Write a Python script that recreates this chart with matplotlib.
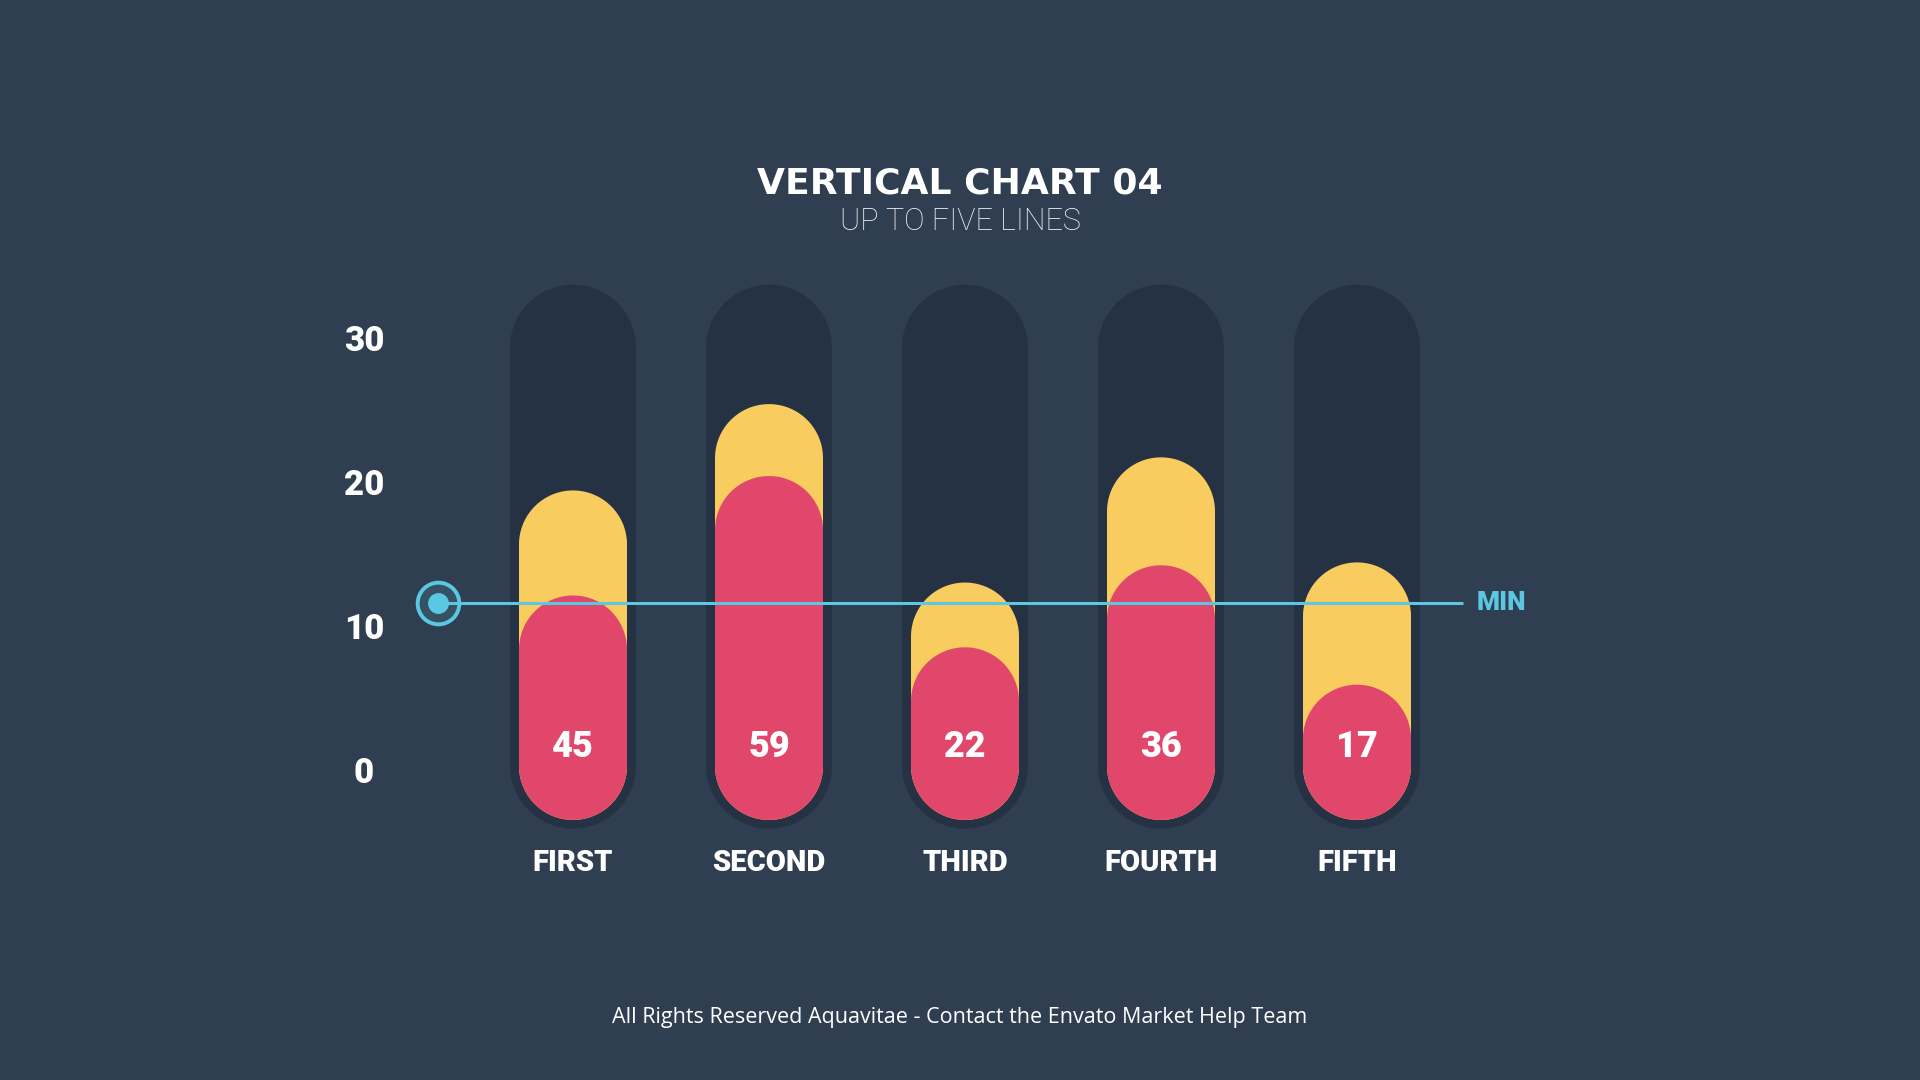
import matplotlib
matplotlib.use("Agg")
import numpy as np
import matplotlib.pyplot as plt
from matplotlib.patches import Polygon

# data
categories = ["FIRST", "SECOND", "THIRD", "FOURTH", "FIFTH"]
yellow_values = [19.4, 25.4, 13.0, 21.7, 14.4]
red_values = [12.1, 20.4, 8.5, 14.2, 5.9]
value_labels = ["45", "59", "22", "36", "17"]
y_ticks = [0, 10, 20, 30]
min_value = 11.6

# colours
BG = "#2f3e50"
TRACK = "#253243"
YELLOW = "#f9cc60"
RED = "#e0476a"
CYAN = "#5bc7e1"
WHITE = "#ffffff"
HEAVY = ["Roboto", "DejaVu Sans"]

# layout (pixels in a 1920x1080 canvas)
W, H = 1920, 1080
X0_PX, DX_PX = 573, 196       # first bar centre, bar spacing
Y0_PX, DY_PX = 769.6, 14.39   # pixel row of value 0, pixels per unit
XLIM = (-0.75, 4.75)
YLIM = (-5.0, 36.0)
BAR_W_PX, TRACK_W_PX = 108, 126
BAR_BASE = -3.5
TRACK_BASE, TRACK_TOP = -4.1, 33.7

fig = plt.figure(figsize=(W / 100, H / 100), dpi=100, facecolor=BG)
left_px = X0_PX + DX_PX * XLIM[0]
right_px = X0_PX + DX_PX * XLIM[1]
top_px = Y0_PX - DY_PX * YLIM[1]
bottom_px = Y0_PX - DY_PX * YLIM[0]
ax = fig.add_axes([left_px / W, 1 - bottom_px / H,
                   (right_px - left_px) / W, (bottom_px - top_px) / H])
ax.set_facecolor("none")
ax.set_xlim(*XLIM)
ax.set_ylim(*YLIM)
for s in ax.spines.values():
    s.set_visible(False)


def pill(x, bottom, top, width_px, color, z):
    # capsule with true semicircle ends (radius = half width, in pixels)
    rx = width_px / 2 / DX_PX
    ry = width_px / 2 / DY_PX
    t_top = np.linspace(0, np.pi, 60)
    t_bot = np.linspace(np.pi, 2 * np.pi, 60)
    xs = np.concatenate([x + rx * np.cos(t_top), x + rx * np.cos(t_bot)])
    ys = np.concatenate([top - ry + ry * np.sin(t_top),
                         bottom + ry + ry * np.sin(t_bot)])
    ax.add_patch(Polygon(np.column_stack([xs, ys]), closed=True,
                         facecolor=color, edgecolor="none", zorder=z))


for i in range(len(categories)):
    pill(i, TRACK_BASE, TRACK_TOP, TRACK_W_PX, TRACK, 1)
    pill(i, BAR_BASE, yellow_values[i], BAR_W_PX, YELLOW, 2)
    pill(i, BAR_BASE, red_values[i], BAR_W_PX, RED, 3)
    ax.text(i, BAR_BASE + 5.1, value_labels[i], color=WHITE, fontsize=26,
            fontweight="black", family=HEAVY,
            ha="center", va="center", zorder=5)

# min line with ring marker
line_x0 = (438 - X0_PX) / DX_PX
line_x1 = (1463 - X0_PX) / DX_PX
ax.hlines(min_value, line_x0, line_x1, color=CYAN, lw=2.2, zorder=4)
ax.plot([line_x0], [min_value], "o", markersize=30,
        markerfacecolor=(0.36, 0.78, 0.88, 0.15),
        markeredgecolor=CYAN, markeredgewidth=2.8, zorder=6, clip_on=False)
ax.plot([line_x0], [min_value], "o", markersize=14, color=CYAN, zorder=7,
        clip_on=False)
ax.text((1477 - X0_PX) / DX_PX, min_value, "MIN", color=CYAN, fontsize=19,
        fontweight="black", family=HEAVY, ha="left", va="center")

# axes ticks
ax.set_yticks(y_ticks)
ax.set_yticklabels([str(t) for t in y_ticks])
ax.set_xticks(range(len(categories)))
ax.set_xticklabels(categories)
ax.tick_params(axis="both", length=0, colors=WHITE)
ax.tick_params(axis="y", pad=(left_px - 364) * 0.72)
ax.tick_params(axis="x", pad=(863 - bottom_px) * 0.72)
for t in ax.get_yticklabels():
    t.set_ha("center")
    t.set_fontsize(25)
    t.set_fontweight("black")
    t.set_family(HEAVY)
for t in ax.get_xticklabels():
    t.set_va("center")
    t.set_fontsize(21)
    t.set_fontweight("black")
    t.set_family(HEAVY)

# titles and footer
fig.text(0.5, 1 - 184 / H, "VERTICAL CHART 04", color=WHITE, fontsize=26,
         fontweight="heavy", family=["DejaVu Sans"], ha="center", va="center")
fig.text(0.5, 1 - 221 / H, "UP TO FIVE LINES", color="#f2f4f7", fontsize=22,
         fontweight="light", family=["Roboto", "DejaVu Sans"],
         ha="center", va="center")
fig.text(0.5, 1 - 1017 / H,
         "All Rights Reserved Aquavitae - Contact the Envato Market Help Team",
         color=WHITE, fontsize=15.5, family=["Open Sans", "DejaVu Sans"],
         ha="center", va="center")

fig.savefig("out.png", dpi=100, facecolor=BG)
